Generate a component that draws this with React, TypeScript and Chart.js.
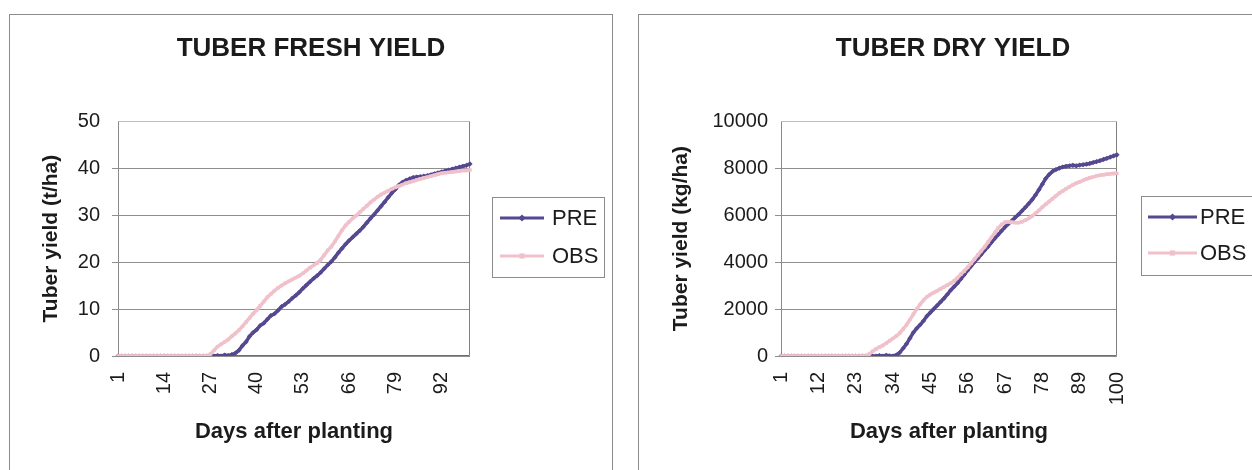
import React, { useEffect, useRef } from "react";
import { Chart, registerables } from "chart.js";

Chart.register(...registerables);

// ---------- data ----------
const days = Array.from({ length: 100 }, (_, i) => String(i + 1));
const freshTickDays = ["1", "14", "27", "40", "53", "66", "79", "92"];
const dryTickDays = ["1", "12", "23", "34", "45", "56", "67", "78", "89", "100"];
const seriesNames = ["PRE", "OBS"];

// Tuber fresh yield (t/ha), days 1..100
const freshPRE = [
  0, 0, 0, 0, 0, 0, 0, 0, 0, 0,
  0, 0, 0, 0, 0, 0, 0, 0, 0, 0,
  0, 0, 0, 0, 0, 0, 0, 0, 0.1, 0,
  0.2, 0.1, 0.3, 0.6, 1.2, 2.2, 3.0, 4.2, 5.0, 5.6,
  6.5, 7.0, 7.8, 8.6, 9.0, 9.7, 10.5, 11.0, 11.6, 12.3,
  12.9, 13.6, 14.4, 15.1, 15.8, 16.5, 17.1, 17.8, 18.6, 19.4,
  20.1, 21.0, 22.0, 22.9, 23.8, 24.6, 25.3, 26.0, 26.7, 27.5,
  28.4, 29.3, 30.1, 31.0, 31.9, 32.8, 33.8, 34.7, 35.5, 36.4,
  37.0, 37.4, 37.7, 38.0, 38.1, 38.2, 38.3, 38.4, 38.6, 38.8,
  39.0, 39.2, 39.4, 39.6, 39.8, 40.0, 40.2, 40.4, 40.6, 40.9,
];
const freshOBS = [
  0, 0, 0, 0, 0, 0, 0, 0, 0, 0,
  0, 0, 0, 0, 0, 0, 0, 0, 0, 0,
  0, 0, 0, 0, 0, 0, 0.4, 1.2, 2.0, 2.5,
  3.0, 3.5, 4.2, 4.8, 5.5, 6.3, 7.2, 8.1, 9.0, 9.8,
  10.7, 11.6, 12.5, 13.2, 13.9, 14.5, 15.0, 15.5, 15.9, 16.3,
  16.7, 17.1, 17.6, 18.2, 18.8, 19.3, 19.8, 20.5, 21.5, 22.5,
  23.3, 24.4, 25.6, 26.8, 27.8, 28.6, 29.3, 29.9, 30.6, 31.3,
  32.0, 32.7, 33.3, 33.9, 34.4, 34.8, 35.2, 35.6, 35.9, 36.2,
  36.5, 36.8, 37.0, 37.2, 37.5, 37.7, 37.9, 38.1, 38.3, 38.5,
  38.7, 38.9, 39.0, 39.1, 39.2, 39.3, 39.4, 39.5, 39.5, 39.6,
];

// Tuber dry yield (kg/ha), days 1..100
const dryPRE = [
  0, 0, 0, 0, 0, 0, 0, 0, 0, 0,
  0, 0, 0, 0, 0, 0, 0, 0, 0, 0,
  0, 0, 0, 0, 0, 0, 0, 0, 0, 20,
  0, 30, 10, 0, 40, 150, 330, 520, 760, 1000,
  1180, 1330, 1500, 1700, 1850, 2000, 2150, 2300, 2450, 2620,
  2800, 2950, 3100, 3280, 3460, 3650, 3830, 4000, 4160, 4330,
  4500, 4660, 4840, 5010, 5170, 5330, 5490, 5630, 5760, 5900,
  6030, 6180, 6330, 6490, 6660, 6860, 7080, 7320, 7560, 7730,
  7860, 7940, 8000, 8050, 8080, 8100, 8120, 8100, 8130, 8150,
  8170, 8200, 8240, 8280, 8320, 8370, 8420, 8470, 8520, 8570,
];
const dryOBS = [
  0, 0, 0, 0, 0, 0, 0, 0, 0, 0,
  0, 0, 0, 0, 0, 0, 0, 0, 0, 0,
  0, 0, 0, 0, 0, 0, 80, 200, 300, 380,
  450, 550, 650, 750, 850, 980, 1150, 1330, 1550, 1780,
  2000, 2200, 2380, 2520, 2620, 2700, 2780, 2860, 2940, 3020,
  3100, 3200, 3330, 3480, 3620, 3780, 3950, 4120, 4300, 4480,
  4650, 4850, 5050, 5250, 5450, 5600, 5700, 5720, 5700, 5680,
  5680, 5720, 5780, 5860, 5960, 6080, 6200, 6340, 6460, 6580,
  6700, 6820, 6930, 7030, 7120, 7210, 7290, 7360, 7420, 7480,
  7540, 7590, 7630, 7670, 7700, 7720, 7740, 7760, 7770, 7780,
];

// ---------- styling ----------
const FONT = "'Liberation Sans', Arial, Helvetica, sans-serif";
const PRE_COLOR = "#564890";
const OBS_COLOR = "#f0c0cb";
const TEXT = "#1b1b1b";
const GRID = "#8e8e8e";

type Layout = {
  width: number;
  height: number;
  yAxisWidth: number;
  rightSpace: number;
  xAxisHeight: number;
  yTitlePad: number;
  yTickPad: number;
  legend: { x: number; y: number; w: number; h: number; lx1: number; lx2: number; tx: number; rows: number[] };
};

type Props = {
  title: string;
  yTitle: string;
  yMax: number;
  yStep: number;
  tickDays: string[];
  pre: number[];
  obs: number[];
  layout: Layout;
};

function drawMarker(ctx: CanvasRenderingContext2D, style: string, x: number, y: number, r: number, color: string) {
  ctx.fillStyle = color;
  ctx.beginPath();
  if (style === "rectRot") {
    ctx.moveTo(x, y - r);
    ctx.lineTo(x + r, y);
    ctx.lineTo(x, y + r);
    ctx.lineTo(x - r, y);
    ctx.closePath();
  } else {
    ctx.rect(x - r * 0.75, y - r * 0.75, r * 1.5, r * 1.5);
  }
  ctx.fill();
}

function YieldChart({ title, yTitle, yMax, yStep, tickDays, pre, obs, layout }: Props) {
  const ref = useRef<HTMLCanvasElement>(null);

  useEffect(() => {
    const canvas = ref.current;
    if (!canvas) return;

    const framePlugin = {
      id: "plotFrame",
      beforeDatasetsDraw(chart: any) {
        const { ctx } = chart;
        const { left, right, top, bottom } = chart.chartArea;
        const L = Math.round(left) + 0.5;
        const R = Math.round(right) - 0.5;
        const T = Math.round(top) + 0.5;
        const B = Math.round(bottom) - 0.5;
        ctx.save();
        ctx.lineWidth = 1;
        ctx.strokeStyle = "#bdbdbd";
        ctx.beginPath();
        ctx.moveTo(L, T);
        ctx.lineTo(R, T);
        ctx.stroke();
        ctx.strokeStyle = "#808080";
        ctx.beginPath();
        ctx.moveTo(R, T);
        ctx.lineTo(R, B);
        ctx.stroke();
        ctx.strokeStyle = "#8a8a8a";
        ctx.beginPath();
        ctx.moveTo(L, T);
        ctx.lineTo(L, B);
        ctx.stroke();
        ctx.strokeStyle = "#707070";
        ctx.beginPath();
        ctx.moveTo(L, B);
        ctx.lineTo(R, B);
        ctx.stroke();
        ctx.restore();
      },
    };

    const lg = layout.legend;
    const legendPlugin = {
      id: "boxLegend",
      afterDraw(chart: any) {
        const { ctx } = chart;
        ctx.save();
        ctx.lineWidth = 1;
        ctx.strokeStyle = "#8c8c8c";
        ctx.strokeRect(lg.x + 0.5, lg.y + 0.5, lg.w, lg.h);
        const items = [
          { label: seriesNames[0], color: PRE_COLOR, style: "rectRot" },
          { label: seriesNames[1], color: OBS_COLOR, style: "rect" },
        ];
        items.forEach((it, i) => {
          const cy = lg.rows[i];
          ctx.strokeStyle = it.color;
          ctx.lineWidth = 3;
          ctx.beginPath();
          ctx.moveTo(lg.lx1, cy);
          ctx.lineTo(lg.lx2, cy);
          ctx.stroke();
          drawMarker(ctx, it.style, (lg.lx1 + lg.lx2) / 2, cy, 3.5, it.color);
          ctx.fillStyle = TEXT;
          ctx.font = `22px ${FONT}`;
          ctx.textAlign = "left";
          ctx.textBaseline = "middle";
          ctx.fillText(it.label, lg.tx, cy + 1);
        });
        ctx.restore();
      },
    };

    const chart = new Chart(canvas, {
      type: "line",
      data: {
        labels: days,
        datasets: [
          {
            label: seriesNames[0],
            data: pre,
            borderColor: PRE_COLOR,
            backgroundColor: PRE_COLOR,
            borderWidth: 3.5,
            pointStyle: "rectRot",
            pointRadius: 2.6,
            pointBorderWidth: 0,
            tension: 0,
            order: 2,
          },
          {
            label: seriesNames[1],
            data: obs,
            borderColor: OBS_COLOR,
            backgroundColor: OBS_COLOR,
            borderWidth: 3.5,
            pointStyle: "rect",
            pointRadius: 2.4,
            pointBorderWidth: 0,
            tension: 0,
            order: 1,
          },
        ],
      },
      options: {
        responsive: false,
        animation: false,
        devicePixelRatio: 1,
        layout: { padding: 0 },
        plugins: {
          legend: { display: false },
          tooltip: { enabled: false },
          title: {
            display: true,
            text: title,
            color: TEXT,
            font: { family: FONT, size: 26, weight: "bold" },
            padding: { top: 18, bottom: 57 },
          },
        },
        scales: {
          x: {
            type: "category",
            grid: { display: false, drawTicks: false },
            border: { display: false },
            ticks: {
              autoSkip: false,
              minRotation: 90,
              maxRotation: 90,
              padding: 16,
              color: TEXT,
              font: { family: FONT, size: 20 },
              callback: (_v: any, i: number) => (tickDays.includes(days[i]) ? days[i] : ""),
            },
            title: {
              display: true,
              text: "Days after planting",
              color: TEXT,
              font: { family: FONT, size: 22, weight: "bold" },
              padding: { top: 0, bottom: 26 },
            },
            afterFit: (s: any) => {
              s.height = layout.xAxisHeight;
            },
          },
          y: {
            type: "linear",
            position: "left",
            min: 0,
            max: yMax,
            grid: {
              color: (c: any) => (c.tick && c.tick.value === yMax ? "rgba(0,0,0,0)" : GRID),
              lineWidth: 1,
              tickLength: 6,
              drawTicks: true,
            },
            border: { display: false },
            ticks: {
              stepSize: yStep,
              padding: layout.yTickPad,
              color: TEXT,
              font: { family: FONT, size: 20 },
              callback: (v: any) => String(v),
            },
            title: {
              display: true,
              text: yTitle,
              color: TEXT,
              font: { family: FONT, size: 21, weight: "bold" },
              padding: { top: layout.yTitlePad, bottom: 0 },
            },
            afterFit: (s: any) => {
              s.width = layout.yAxisWidth;
            },
          },
          yr: {
            type: "linear",
            position: "right",
            display: true,
            grid: { display: false, drawTicks: false },
            border: { display: false },
            ticks: { display: false },
            afterFit: (s: any) => {
              s.width = layout.rightSpace;
            },
          },
        },
      } as any,
      plugins: [framePlugin, legendPlugin],
    });

    return () => chart.destroy();
  }, []);

  return (
    <canvas
      ref={ref}
      width={layout.width}
      height={layout.height}
      style={{ display: "block", width: layout.width, height: layout.height }}
    />
  );
}

const leftLayout: Layout = {
  width: 602,
  height: 456,
  yAxisWidth: 108,
  rightSpace: 142,
  xAxisHeight: 115,
  yTitlePad: 29,
  yTickPad: 12,
  legend: { x: 482, y: 182, w: 112, h: 80, lx1: 490, lx2: 534, tx: 542, rows: [203, 241] },
};

const rightLayout: Layout = {
  width: 628,
  height: 456,
  yAxisWidth: 142,
  rightSpace: 150,
  xAxisHeight: 115,
  yTitlePad: 30,
  yTickPad: 7,
  legend: { x: 502, y: 181, w: 125, h: 79, lx1: 509, lx2: 558, tx: 561, rows: [202, 238] },
};

export default function App() {
  return (
    <div
      style={{
        position: "fixed",
        left: 0,
        top: 0,
        width: 1252,
        height: 470,
        overflow: "hidden",
        background: "#ffffff",
      }}
    >
      <div
        style={{
          position: "absolute",
          left: 9,
          top: 14,
          width: 602,
          height: 470,
          border: "1px solid #8c8c8c",
          background: "#fff",
        }}
      >
        <YieldChart
          title="TUBER FRESH YIELD"
          yTitle="Tuber yield (t/ha)"
          yMax={50}
          yStep={10}
          tickDays={freshTickDays}
          pre={freshPRE}
          obs={freshOBS}
          layout={leftLayout}
        />
      </div>
      <div
        style={{
          position: "absolute",
          left: 638,
          top: 14,
          width: 628,
          height: 470,
          border: "1px solid #8c8c8c",
          background: "#fff",
        }}
      >
        <YieldChart
          title="TUBER DRY YIELD"
          yTitle="Tuber yield (kg/ha)"
          yMax={10000}
          yStep={2000}
          tickDays={dryTickDays}
          pre={dryPRE}
          obs={dryOBS}
          layout={rightLayout}
        />
      </div>
    </div>
  );
}
